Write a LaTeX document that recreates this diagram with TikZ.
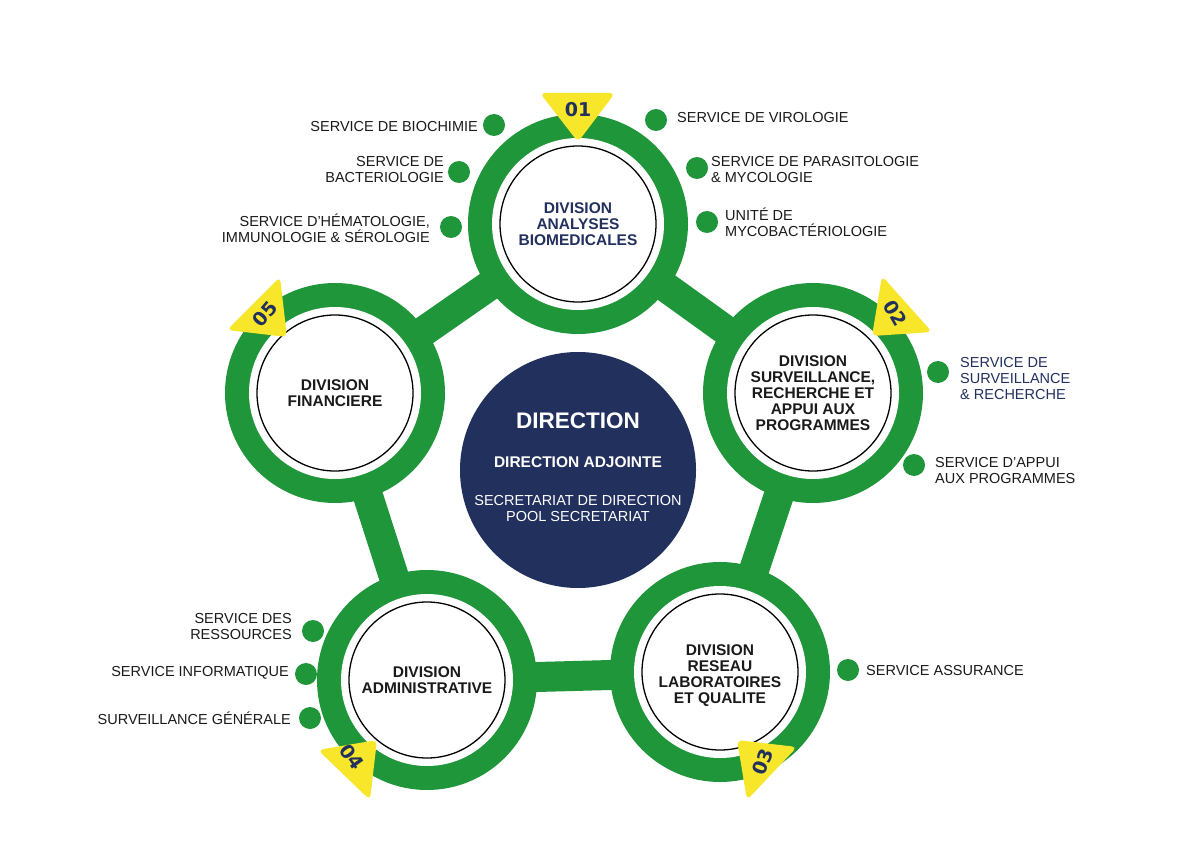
\documentclass[tikz,border=0pt]{standalone}
\usepackage{fontspec}
\setmainfont{Liberation Sans}
\newfontfamily\numfont{DejaVu Sans}
\definecolor{gr}{HTML}{1F9639}
\definecolor{nv}{HTML}{22305E}
\definecolor{yl}{HTML}{F7E62A}
\definecolor{tx}{HTML}{1A1A1A}
\begin{document}
\begin{tikzpicture}[x=1pt,y=-1pt,
  bar/.style={line width=30pt,draw=gr},
  dot/.style={circle,fill=gr,minimum size=22pt,inner sep=0pt},
  lab/.style={font=\fontsize{14.5}{16}\selectfont,text=tx,inner sep=0pt,align=left},
  labr/.style={lab,align=right},
  div/.style={font=\fontsize{15.5}{16}\selectfont\bfseries,text=tx,align=center,inner sep=0pt},
  tri/.style={fill=yl,rounded corners=5pt},
  num/.style={font=\numfont\bfseries\fontsize{19}{19}\selectfont,text=nv,inner sep=0pt}]
\useasboundingbox[fill=white] (0,0) rectangle (1184,864);
\coordinate (A) at (578,224);
\coordinate (B) at (813,393);
\coordinate (C) at (720,672);
\coordinate (D) at (427,680);
\coordinate (E) at (335,393);
\draw[bar] (A)--(B)--(C)--(D)--(E)--cycle;
\foreach \p in {A,B,C,D,E}{
  \fill[gr] (\p) circle (110);
  \fill[white] (\p) circle (86);
  \draw[black,line width=1.3pt,fill=white] (\p) circle (78);
}
% triangles
\fill[tri] (540,93)--(615,93)--(578,142)--cycle;
\fill[tri] (882,276)--(932,332)--(872,336)--cycle;
\fill[tri] (737,740)--(797,747)--(747,800)--cycle;
\fill[tri] (318,750)--(377,740)--(370,800)--cycle;
\fill[tri] (280,277)--(287,337)--(227,330)--cycle;
\node[num] (n1) at (578,110) {01};
\node[num,rotate=-60] (n2) at (895,313) {02};
\node[num,rotate=70] (n3) at (763,762) {03};
\node[num,rotate=-55] (n4) at (352,757) {04};
\node[num,rotate=50] (n5) at (265,314) {05};
% division texts
\node[div,text=nv] (dA) at (A) {DIVISION\\ANALYSES\\BIOMEDICALES};
\node[div] (dB) at (B) {DIVISION\\SURVEILLANCE,\\RECHERCHE ET\\APPUI AUX\\PROGRAMMES};
\node[div] (dC) at (720,676) {DIVISION\\RESEAU\\LABORATOIRES\\ET QUALITE};
\node[div] (dD) at (D) {DIVISION\\ADMINISTRATIVE};
\node[div] (dE) at (E) {DIVISION\\FINANCIERE};
% center
\node[circle,fill=nv,minimum size=236pt,inner sep=0pt] (ctr) at (578,470) {};
\node[font=\fontsize{22.5}{22}\selectfont\bfseries,text=white] (t1) at (578,421) {DIRECTION};
\node[font=\fontsize{15.5}{15}\selectfont\bfseries,text=white] (t2) at (578,462) {DIRECTION ADJOINTE};
\node[font=\fontsize{14.5}{16}\selectfont,text=white,align=center] (t3) at (578,509) {SECRETARIAT DE DIRECTION\\POOL SECRETARIAT};
% services
\node[dot] (s1) at (494,125) {};
\node[labr,anchor=east] (l1) at (478,127) {SERVICE DE BIOCHIMIE};
\node[dot] (s2) at (459,172) {};
\node[labr,anchor=east] (l2) at (444,170) {SERVICE DE\\BACTERIOLOGIE};
\node[dot] (s3) at (451,227) {};
\node[labr,anchor=east] (l3) at (430,228) {SERVICE D'HÉMATOLOGIE,\\IMMUNOLOGIE \& SÉROLOGIE};
\node[dot] (s4) at (656,120) {};
\node[lab,anchor=west] (l4) at (677,118) {SERVICE DE VIROLOGIE};
\node[dot] (s5) at (697,168) {};
\node[lab,anchor=west] (l5) at (711,170) {SERVICE DE PARASITOLOGIE\\\& MYCOLOGIE};
\node[dot] (s6) at (707,222) {};
\node[lab,anchor=west] (l6) at (725,222) {UNITÉ DE\\MYCOBACTÉRIOLOGIE};
\node[dot] (s7) at (938,372) {};
\node[lab,anchor=west,text=nv] (l7) at (960,379) {SERVICE DE\\SURVEILLANCE\\\& RECHERCHE};
\node[dot] (s8) at (914,465) {};
\node[lab,anchor=west] (l8) at (935,471) {SERVICE D’APPUI\\AUX PROGRAMMES};
\node[dot] (s9) at (848,670) {};
\node[lab,anchor=west] (l9) at (866,671) {SERVICE ASSURANCE};
\node[dot] (s10) at (313,631) {};
\node[labr,anchor=east] (l10) at (292,627) {SERVICE DES\\RESSOURCES};
\node[dot] (s11) at (306,674) {};
\node[labr,anchor=east] (l11) at (289,673) {SERVICE INFORMATIQUE};
\node[dot] (s12) at (310,718) {};
\node[labr,anchor=east] (l12) at (291,718) {SURVEILLANCE GÉNÉRALE};
\end{tikzpicture}
\end{document}
